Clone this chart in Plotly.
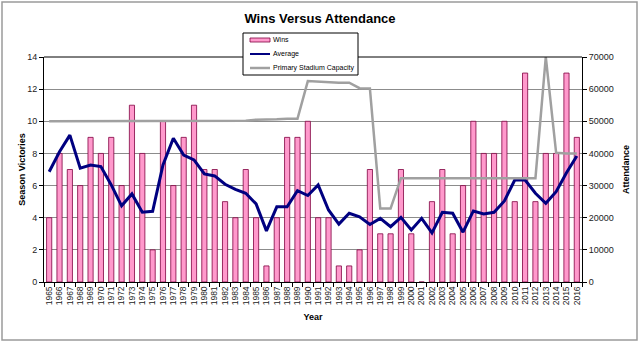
import plotly.graph_objects as go

years = [str(y) for y in range(1965, 2017)]

wins = [4, 8, 7, 6, 9, 8, 9, 6, 11, 8,
        2, 10, 6, 9, 11, 7, 7, 5, 4, 7,
        4, 1, 4, 9, 9, 10, 4, 4, 1, 1,
        2, 7, 3, 3, 7, 3, 0, 5, 7, 3,
        6, 10, 8, 8, 10, 5, 13, 5, 8, 8,
        13, 9]

average = [34300, 40500, 45700, 35400, 36400, 35900, 30200, 23700, 27400, 21700,
           22000, 36400, 44700, 39500, 38000, 33600, 33000, 30400, 28800, 27600,
           24300, 15900, 23400, 23400, 28400, 26900, 30200, 22400, 18000, 21400,
           20300, 17900, 19800, 17200, 20100, 16200, 19800, 15300, 21700, 21400,
           15500, 22100, 21200, 21700, 25200, 31700, 31700, 27600, 24500, 28100,
           34000, 39200]

capacity = [50000, 50000, 50000, 50000, 50000, 50000, 50000, 50000, 50000, 50000,
            50000, 50000, 50000, 50000, 50000, 50000, 50000, 50000, 50000, 50200,
            50500, 50500, 50600, 50800, 50800, 62500, 62300, 62000, 62000, 62000,
            60300, 60200, 22900, 22900, 32300, 32300, 32300, 32300, 32300, 32300,
            32300, 32300, 32300, 32300, 32300, 32300, 32300, 32300, 70000, 40200,
            40000, 40000]

FONT = "Liberation Sans, Arial, sans-serif"
PINK = "#FF99CC"
BAR_EDGE = "#800040"
NAVY = "#000080"
GRAY = "#A0A0A0"

fig = go.Figure()
fig.add_trace(go.Bar(
    x=years, y=wins, name="Wins",
    marker=dict(color=PINK, line=dict(color=BAR_EDGE, width=0.8)),
    yaxis="y",
))
fig.add_trace(go.Scatter(
    x=years, y=average, name="Average", mode="lines",
    line=dict(color=NAVY, width=3),
    yaxis="y2",
))
fig.add_trace(go.Scatter(
    x=years, y=capacity, name="Primary Stadium Capacity", mode="lines",
    line=dict(color=GRAY, width=2.5),
    yaxis="y2",
))

L, R, T, B = 44, 58, 57, 61
W, H = 640, 343
pw = W - L - R
ph = H - T - B

def px(x):
    return (x - L) / pw

def py(y):
    return (H - B - y) / ph

# manual legend (box, symbols, labels)
legend_items = [("Wins", "bar"), ("Average", "avg"), ("Primary Stadium Capacity", "cap")]
shapes = [
    dict(type="rect", xref="paper", yref="paper",
         x0=px(2), x1=px(637), y0=py(340), y1=py(2),
         line=dict(color="#9A9A9A", width=1.5), layer="below"),
    dict(type="line", xref="paper", yref="paper",
         x0=0, x1=1, y0=1, y1=1,
         line=dict(color="#000000", width=1)),
    dict(type="rect", xref="paper", yref="paper",
         x0=px(243), x1=px(358), y0=py(75), y1=py(33),
         fillcolor="white", line=dict(color="#000000", width=1), layer="above"),
]
annotations = []
row_y = [40, 54, 68]
for (label, kind), yy in zip(legend_items, row_y):
    if kind == "bar":
        shapes.append(dict(type="rect", xref="paper", yref="paper",
                           x0=px(250), x1=px(270), y0=py(yy + 2), y1=py(yy - 2),
                           fillcolor=PINK, line=dict(color=BAR_EDGE, width=0.8),
                           layer="above"))
    else:
        shapes.append(dict(type="line", xref="paper", yref="paper",
                           x0=px(250), x1=px(270), y0=py(yy), y1=py(yy),
                           line=dict(color=NAVY if kind == "avg" else GRAY,
                                     width=2 if kind == "avg" else 2.5),
                           layer="above"))
    annotations.append(dict(text=label, xref="paper", yref="paper",
                            x=px(271), y=py(yy), xanchor="left", yanchor="middle",
                            showarrow=False, font=dict(size=7, family=FONT)))

fig.update_layout(
    width=W, height=H,
    margin=dict(l=L, r=R, t=T, b=B),
    paper_bgcolor="white", plot_bgcolor="white",
    font=dict(family=FONT, size=9, color="#000000"),
    bargap=0.5,
    showlegend=False,
    title=dict(text="<b>Wins Versus Attendance</b>", x=0.5, xanchor="center",
               y=1 - 18 / H, yanchor="middle", font=dict(size=13, family=FONT)),
    xaxis=dict(
        type="category", tickangle=-90, showgrid=False,
        tickmode="linear", dtick=1,
        showline=True, linecolor="#000000", linewidth=1,
        ticks="outside", ticklen=4, tickcolor="#000000",
        tickson="boundaries",
        tickfont=dict(size=8.5, color="#222222"),
        title=dict(text="<b>Year</b>", font=dict(size=9), standoff=9),
    ),
    yaxis=dict(
        range=[0, 14], dtick=2, showgrid=True, gridcolor="#8C8C8C", gridwidth=1,
        showline=True, linecolor="#000000", linewidth=1,
        ticks="outside", ticklen=4, tickcolor="#000000",
        tickfont=dict(size=9, color="#222222"),
        zeroline=False,
        title=dict(text="<b>Season Victories</b>", font=dict(size=9), standoff=0),
    ),
    yaxis2=dict(
        range=[0, 70000], dtick=10000, overlaying="y", side="right",
        tickformat="d",
        showgrid=False, showline=True, linecolor="#000000", linewidth=1,
        ticks="outside", ticklen=4, tickcolor="#000000",
        tickfont=dict(size=9, color="#222222"),
        zeroline=False,
        title=dict(text="<b>Attendance</b>", font=dict(size=9), standoff=9),
    ),
    shapes=shapes,
    annotations=annotations,
)

fig.write_html("out.html")
